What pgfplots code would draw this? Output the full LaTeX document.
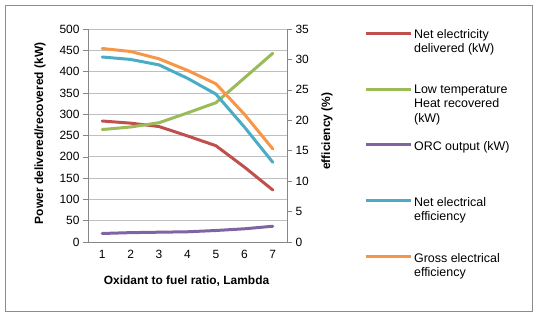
\documentclass[border=0pt]{standalone}
\usepackage{pgfplots}
\pgfplotsset{compat=1.18}
\usepackage{fontspec}
\setmainfont{Liberation Sans}
\definecolor{cred}{HTML}{C0504D}
\definecolor{cgreen}{HTML}{9BBB59}
\definecolor{cpurple}{HTML}{8064A2}
\definecolor{cblue}{HTML}{4BACC6}
\definecolor{corange}{HTML}{F79646}
\definecolor{caxis}{HTML}{868686}
\definecolor{cgrid}{HTML}{BFBFBF}
\definecolor{cframe}{HTML}{8C8C8C}
\newcommand{\lent}[1]{\parbox[b][54.5bp][t]{120bp}{#1}}
\pgfplotsset{
  common/.style={
    at={(88bp,73bp)}, anchor=south west, scale only axis,
    width=199bp, height=213bp,
    xmin=0.5, xmax=7.5,
    tick align=outside,
    major tick length=5bp,
    minor tick length=4bp,
    tick style={caxis, line width=0.6bp},
    axis line style={caxis, line width=0.8bp},
    ticklabel style={font=\fontsize{12}{14}\selectfont},
    /pgf/number format/assume math mode=true,
    label style={font=\bfseries\fontsize{12}{14}\selectfont},
  },
  ser/.style={line width=3bp, line cap=round, line join=round, mark=none},
}
\begin{document}
\begin{tikzpicture}[x=1bp,y=1bp]
\useasboundingbox (0,0) rectangle (536,315);
\draw[cframe, line width=1.3bp] (5.5,3.5) rectangle (532.5,309.5);
\begin{axis}[common,
  axis x line*=bottom, axis y line*=left,
  ymin=0, ymax=500, ytick={0,50,...,500},
  ymajorgrids, grid style={cgrid, line width=0.8bp},
  xtick={1,...,7}, minor xtick={0.5,1.5,...,7.5},
  xtick style={draw=none}, minor x tick style={caxis, line width=0.6bp},
  xlabel={Oxidant to fuel ratio, Lambda},
  xlabel style={at={(axis description cs:0.495,-0.183)}, anchor=center},
  ylabel={Power delivered/recovered (kW)},
  ylabel style={at={(axis description cs:-0.241,0.51)}, anchor=center},
]
\addplot[ser, cred] coordinates {(1,284) (2,279) (3,271) (4,249) (5,226) (6,176) (7,122)};
\addplot[ser, cgreen] coordinates {(1,264) (2,270) (3,280) (4,303) (5,327) (6,385) (7,443)};
\addplot[ser, cpurple] coordinates {(1,20) (2,22) (3,23) (4,24) (5,27) (6,31) (7,37)};
\end{axis}
\begin{axis}[common,
  axis x line=none, axis y line*=right,
  ymin=0, ymax=35, ytick={0,5,...,35},
  ylabel={efficiency (\%)},
  ylabel style={at={(axis description cs:1.201,0.52)}, anchor=center, rotate=0},
  legend image code/.code={\draw[#1, line width=3bp, line cap=butt] (0bp,50.5bp) -- (45bp,50.5bp);},
  legend style={at={(axis description cs:1.39,1.0)}, anchor=north west,
    draw=none, fill=none, inner sep=0pt, outer sep=0pt,
    font=\fontsize{12.5}{14.3}\selectfont,
    nodes={anchor=base west, inner sep=0pt},
    column sep=1.5bp, row sep=0pt},
]
\addlegendimage{cred}
\addlegendentry{\lent{Net electricity\\delivered (kW)}}
\addlegendimage{cgreen}
\addlegendentry{\lent{Low temperature\\Heat recovered\\(kW)}}
\addlegendimage{cpurple}
\addlegendentry{\lent{ORC output (kW)}}
\addplot[ser, cblue] coordinates {(1,30.4) (2,30.0) (3,29.1) (4,26.9) (5,24.3) (6,18.9) (7,13.1)};
\addlegendentry{\lent{Net electrical\\efficiency}}
\addplot[ser, corange] coordinates {(1,31.8) (2,31.3) (3,30.1) (4,28.2) (5,26.0) (6,21.0) (7,15.3)};
\addlegendentry{\lent{Gross electrical\\efficiency}}
\end{axis}
\end{tikzpicture}
\end{document}
